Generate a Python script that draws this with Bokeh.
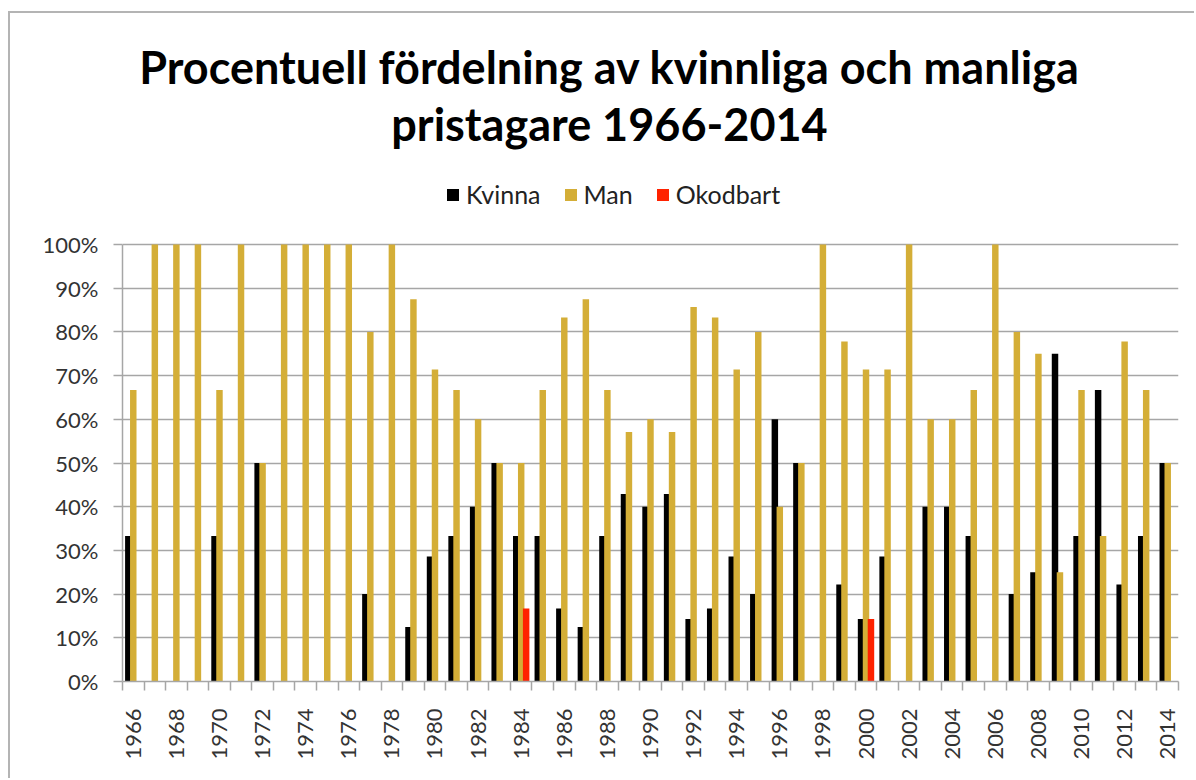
from bokeh.plotting import figure
from bokeh.models import (Range1d, FixedTicker, PrintfTickFormatter, Legend, LegendItem,
                          Label, ColumnDataSource)
from bokeh.transform import dodge
from bokeh.embed import file_html
from bokeh.resources import INLINE
import math

years = list(range(1966, 2015))
kvinna = [33.3, 0, 0, 0, 33.3, 0, 50, 0, 0, 0,
          0, 20, 0, 12.5, 28.6, 33.3, 40, 50, 33.3, 33.3,
          16.7, 12.5, 33.3, 42.9, 40, 42.9, 14.3, 16.7, 28.6, 20,
          60, 50, 0, 22.2, 14.3, 28.6, 0, 40, 40, 33.3,
          0, 20, 25, 75, 33.3, 66.7, 22.2, 33.3, 50]
man = [66.7, 100, 100, 100, 66.7, 100, 50, 100, 100, 100,
       100, 80, 100, 87.5, 71.4, 66.7, 60, 50, 50, 66.7,
       83.3, 87.5, 66.7, 57.1, 60, 57.1, 85.7, 83.3, 71.4, 80,
       40, 50, 100, 77.8, 71.4, 71.4, 100, 60, 60, 66.7,
       100, 80, 75, 25, 66.7, 33.3, 77.8, 66.7, 50]
okodbart = [0, 0, 0, 0, 0, 0, 0, 0, 0, 0,
            0, 0, 0, 0, 0, 0, 0, 0, 16.7, 0,
            0, 0, 0, 0, 0, 0, 0, 0, 0, 0,
            0, 0, 0, 0, 14.3, 0, 0, 0, 0, 0,
            0, 0, 0, 0, 0, 0, 0, 0, 0]
series_names = ["Kvinna", "Man", "Okodbart"]
colors = ["#000000", "#D4AE37", "#FF2200"]
y_ticks = list(range(0, 101, 10))
label_years = years[::2]
title_lines = ["Procentuell fördelning av kvinnliga och manliga", "pristagare 1966-2014"]

src = ColumnDataSource(dict(year=years, kvinna=kvinna, man=man, okodbart=okodbart))

# frame spans from canvas top down to the x axis; the 0-100% band takes 437 of its 668 px,
# leaving room above for title and legend (drawn inside the frame so they are not clipped)
frame_px, band_px = 668, 437
y_top = 100 * frame_px / band_px

p = figure(width=1186, height=767, output_backend="svg", toolbar_location=None,
           x_range=Range1d(years[0] - 0.5, years[-1] + 0.5), y_range=Range1d(0, y_top),
           min_border_left=112, min_border_right=18, min_border_bottom=99, min_border_top=0)
p.styles = {"margin-left": "8px", "margin-top": "11px",
            "border-left": "2px solid #b4b4b4", "border-top": "2px solid #b4b4b4"}
p.outline_line_color = None
p.background_fill_color = "white"
p.border_fill_color = "white"

w = 0.3
r_k = p.vbar(x=dodge("year", -0.23), top="kvinna", width=w, source=src,
             fill_color=colors[0], line_color=None)
r_m = p.vbar(x=dodge("year", 0.0), top="man", width=w, source=src,
             fill_color=colors[1], line_color=None)
r_o = p.vbar(x=dodge("year", 0.23), top="okodbart", width=w, source=src,
             fill_color=colors[2], line_color=None)

# axes
p.xaxis.ticker = FixedTicker(ticks=label_years, minor_ticks=[y - 0.5 for y in years] + [years[-1] + 0.5])
p.xaxis.major_tick_out = 0
p.xaxis.major_tick_in = 0
p.xaxis.minor_tick_out = 9
p.xaxis.minor_tick_in = 0
p.xaxis.minor_tick_line_color = "#a6a6a6"
p.xaxis.minor_tick_line_width = 1.5
p.xaxis.major_label_orientation = math.pi / 2
p.xaxis.major_label_standoff = 18
p.xaxis.axis_line_color = "#a6a6a6"
p.xaxis.axis_line_width = 1.5

p.yaxis.ticker = FixedTicker(ticks=y_ticks)
p.yaxis.bounds = (0, 100)
p.yaxis.formatter = PrintfTickFormatter(format="%d%%")
p.yaxis.major_tick_out = 9
p.yaxis.major_tick_in = 0
p.yaxis.minor_tick_out = 0
p.yaxis.minor_tick_in = 0
p.yaxis.major_tick_line_color = "#a6a6a6"
p.yaxis.major_tick_line_width = 1.5
p.yaxis.axis_line_color = "#a6a6a6"
p.yaxis.axis_line_width = 1.5
p.yaxis.major_label_standoff = 15

for ax in (p.xaxis, p.yaxis):
    ax.major_label_text_font = "Lato"
    ax.major_label_text_font_size = "22px"
    ax.major_label_text_color = "#333333"

p.xgrid.grid_line_color = None
p.ygrid.grid_line_color = "#a6a6a6"
p.ygrid.grid_line_width = 1.5
p.ygrid.ticker = FixedTicker(ticks=y_ticks)

legend = Legend(items=[LegendItem(label=series_names[0], renderers=[r_k]),
                       LegendItem(label=series_names[1], renderers=[r_m]),
                       LegendItem(label=series_names[2], renderers=[r_o])],
                orientation="horizontal", location=(323, 472),
                label_text_font="Lato", label_text_font_size="25px",
                label_text_color="#222222",
                glyph_width=15, glyph_height=15, spacing=22, label_standoff=6,
                padding=4, margin=0, border_line_color=None,
                background_fill_alpha=0)
p.add_layout(legend, "center")

for txt, yy in zip(title_lines, [615, 558]):
    p.add_layout(Label(x=487, y=yy, x_units="screen", y_units="screen", text=txt,
                       text_align="center", text_baseline="middle",
                       text_font="Lato", text_font_style="bold", text_font_size="45px",
                       text_color="#000000"))

open("out.html", "w").write(file_html(p, INLINE))
